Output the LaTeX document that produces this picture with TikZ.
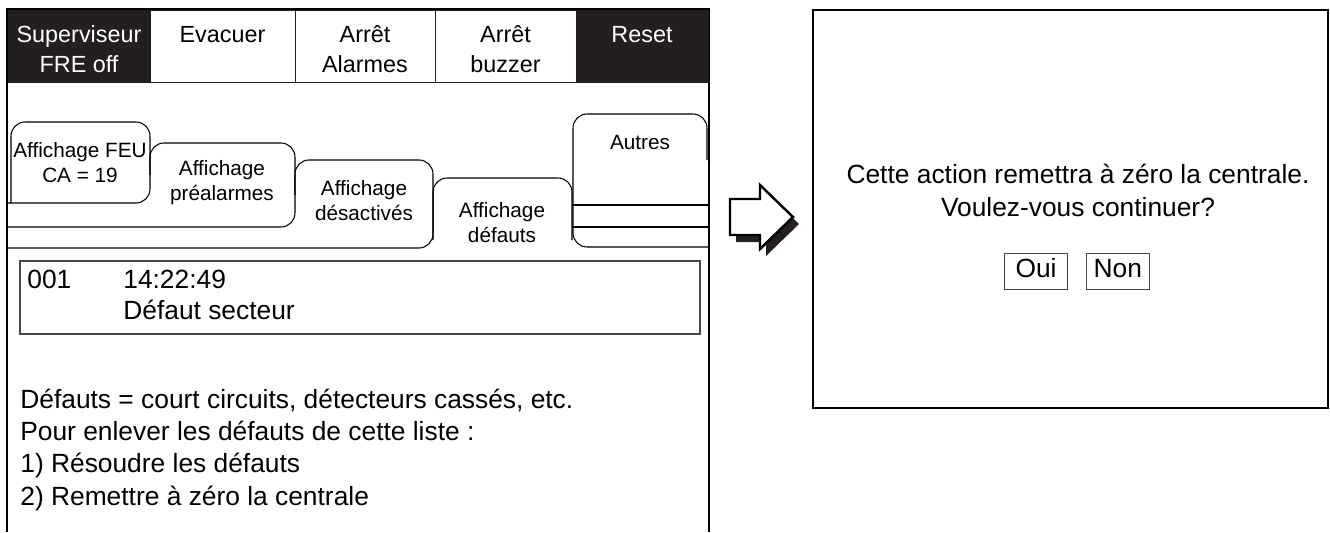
\documentclass[tikz,border=0pt]{standalone}
\usepackage{fontspec}
\setmainfont{Liberation Sans}
\usetikzlibrary{
    positioning,           % Relative positioning
    calc                   % Coordinate calculations
}
\definecolor{PanelBlack}{RGB}{35,31,32}
\definecolor{FrameGray}{RGB}{70,70,70}
\tikzset{header cell/.style={
    rectangle,
    draw=PanelBlack,
    line width=0.5pt,
    minimum height=1.44cm,
    inner sep=0pt,
    outer sep=0pt
}}
\tikzset{header cell dark/.style={
    header cell,
    fill=PanelBlack
}}
\tikzset{header text/.style={
    anchor=base,
    align=center,
    inner sep=0pt,
    font=\fontsize{13.3}{17}\selectfont
}}
\tikzset{tab line/.style={
    line width=0.6pt,
    rounded corners=8pt
}}
\tikzset{tab text/.style={
    anchor=base,
    align=center,
    inner sep=0pt,
    font=\fontsize{11.8}{14.2}\selectfont
}}
\tikzset{panel text/.style={
    inner sep=0pt,
    font=\fontsize{15}{18.3}\selectfont
}}
\tikzset{answer box/.style={
    rectangle,
    draw=FrameGray,
    line width=0.5pt,
    minimum width=1.26cm,
    minimum height=0.72cm,
    inner sep=0pt,
    text height=1.55ex,
    text depth=0.1ex,
    font=\fontsize{15}{18}\selectfont
}}

\begin{document}
\begin{tikzpicture}[x=0.02cm,y=-0.02cm]
    \useasboundingbox (0,0) rectangle (1330,532);

    % left screen: frame
    \draw[line width=1.1pt] (7,532) -- (7,9) -- (709,9) -- (709,532);

    % header buttons
    \node[header cell dark, minimum width=2.84cm] (supcell) at (79,46) {};
    \node[header cell, minimum width=2.9cm] (evaccell) at (222.5,46) {};
    \node[header cell, minimum width=2.8cm] (alarmcell) at (365,46) {};
    \node[header cell, minimum width=2.82cm] (buzzcell) at (505.5,46) {};
    \node[header cell dark, minimum width=2.64cm] (resetcell) at (642,46) {};

    % (base of a two-line text = its last line)
    \node[header text, text=white] (suptext) at (79,72) {Superviseur\\FRE off};
    \node[header text] (evactext) at (222.5,42) {Evacuer};
    \node[header text] (alarmtext) at (365,72) {Arrêt\\Alarmes};
    \node[header text] (buzztext) at (505.5,72) {Arrêt\\buzzer};
    \node[header text, text=white] (resettext) at (642,42) {Reset};

    % tabs
    \draw[tab line] (8,203) -- (150,203) -- (150,122) -- (11,122) -- (11,203);
    \draw[tab line] (8,227) -- (295,227) -- (295,143) -- (150,143) -- (150,175);
    \draw[tab line] (8,248) -- (433,248) -- (433,160) -- (295,160) -- (295,195);
    \draw[tab line] (433,240) -- (433,178) -- (572,178) -- (572,240);
    \draw[tab line] (709,247) -- (573,247) -- (573,114) -- (707,114) -- (707,160);
    \draw[line width=0.6pt] (573,205) -- (709,205);
    \draw[line width=0.6pt] (573,227) -- (709,227);

    \node[tab text] (feu) at (80,182) {Affichage FEU\\CA = 19};
    \node[tab text] (prealarm) at (222,200) {Affichage\\préalarmes};
    \node[tab text] (desact) at (364,220) {Affichage\\désactivés};
    \node[tab text] (defauts) at (502,242) {Affichage\\défauts};
    \node[tab text] (autres) at (640,149) {Autres};

    % event list
    \draw[draw=FrameGray, line width=0.6pt] (20,261) rectangle (700,334);
    \node[panel text, anchor=base west] (evnum) at (27,288) {001};
    \node[panel text, anchor=base west] (evtime) at (123,288) {14:22:49};
    \node[panel text, anchor=base west] (evname) at (123,319) {Défaut secteur};

    \node[panel text, anchor=base west, align=left] (help) at (20,505)
        {Défauts = court circuits, détecteurs cassés, etc.\\
         Pour enlever les défauts de cette liste :\\
         1) Résoudre les défauts\\
         2) Remettre à zéro la centrale};

    % big arrow with shadow
    \fill[PanelBlack] (736,206) -- (766,206) -- (766,192) -- (799,224)
        -- (766,256) -- (766,242) -- (736,242) -- cycle;
    \draw[fill=white, line width=1.4pt, line join=miter]
        (730,199) -- (760,199) -- (760,185) -- (793,217)
        -- (760,249) -- (760,235) -- (730,235) -- cycle;

    % right screen: confirmation
    \draw[line width=0.9pt] (813,10) rectangle (1328,408);
    \node[panel text, anchor=base, align=center] (question) at (1078,216)
        {Cette action remettra à zéro la centrale.\\Voulez-vous continuer?};
    \node[answer box] (oui) at (1036,271) {Oui};
    \node[answer box, right=0.36cm of oui] (non) {Non};
\end{tikzpicture}
\end{document}
